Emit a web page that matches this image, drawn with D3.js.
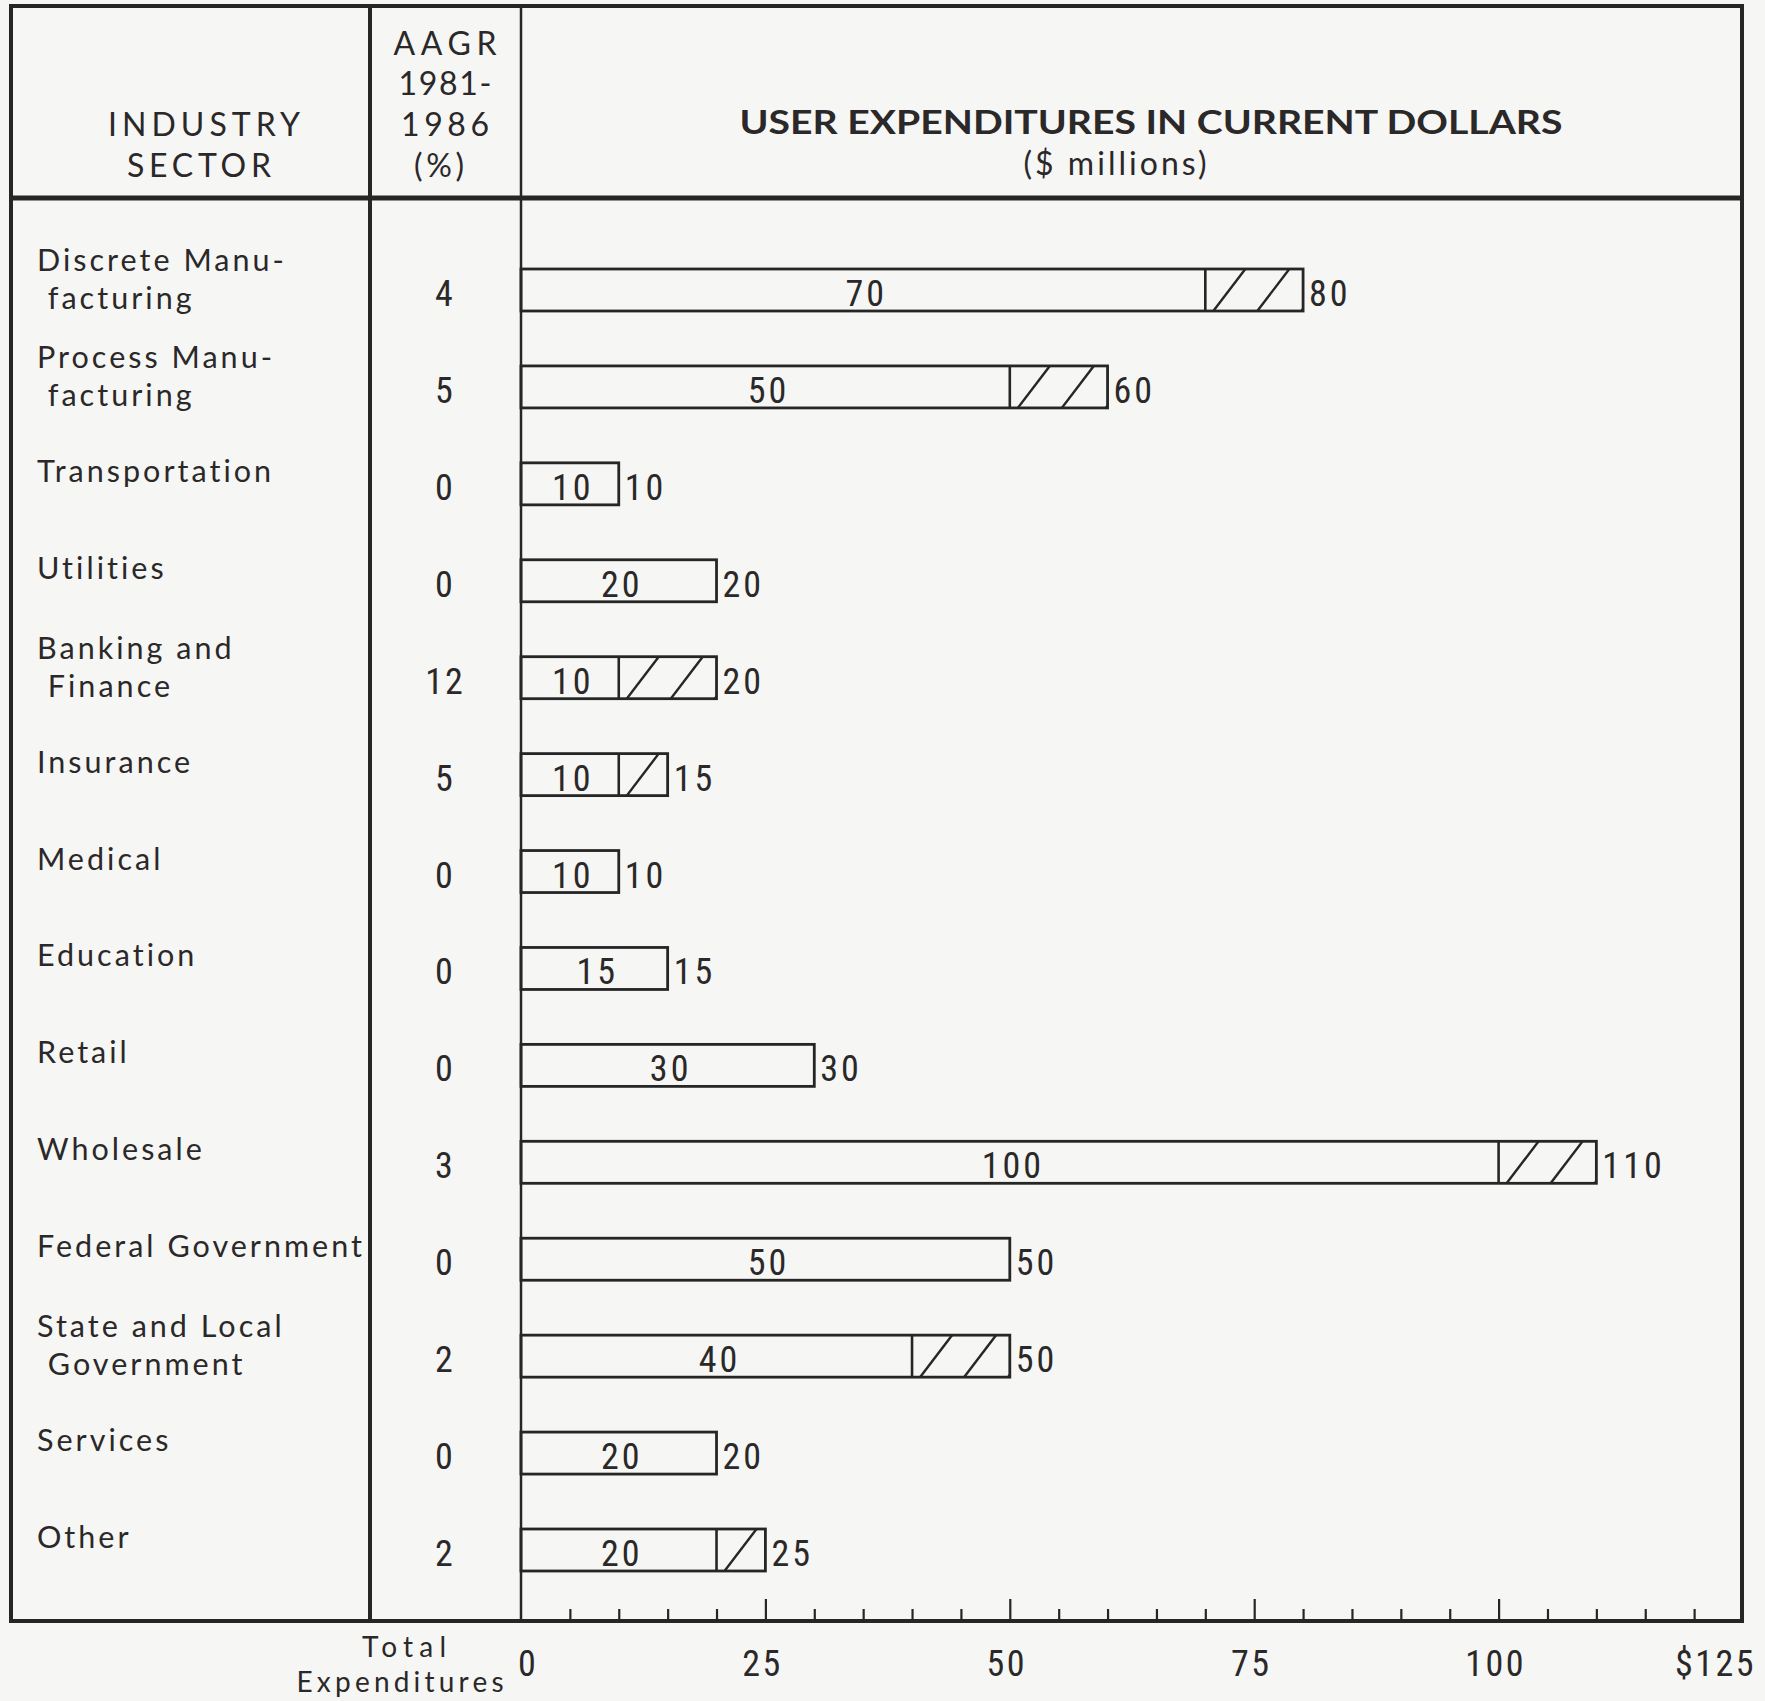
<!DOCTYPE html>
<html>
<head>
<meta charset="utf-8">
<script src="https://cdn.jsdelivr.net/npm/d3@7"></script>
<style>
  html, body { margin: 0; padding: 0; background: #f6f6f4; }
  svg { display: block; }
  text { fill: #2b2829; }
</style>
</head>
<body>
<svg id="chart" width="1765" height="1701"></svg>
<script>
// Industry sectors (each entry is one or two printed lines)
const sectors = [
  ["Discrete Manu-", " facturing"],
  ["Process Manu-", " facturing"],
  ["Transportation"],
  ["Utilities"],
  ["Banking and", " Finance"],
  ["Insurance"],
  ["Medical"],
  ["Education"],
  ["Retail"],
  ["Wholesale"],
  ["Federal Government"],
  ["State and Local", " Government"],
  ["Services"],
  ["Other"]
];
// Average annual growth rate 1981-1986 (%)
const aagr = [4, 5, 0, 0, 12, 5, 0, 0, 0, 3, 0, 2, 0, 2];
// User expenditures, $ millions: 1981 level and 1986 level
const spend1981 = [70, 50, 10, 20, 10, 10, 10, 15, 30, 100, 50, 40, 20, 20];
const spend1986 = [80, 60, 10, 20, 20, 15, 10, 15, 30, 110, 50, 50, 20, 25];
// Axis tick values and labels
const majorTicks = [0, 25, 50, 75, 100, 125];
const tickLabels = ["0", "25", "50", "75", "100", "$125"];
const minorTicks = [5, 10, 15, 20, 30, 35, 40, 45, 55, 60, 65, 70, 80, 85, 90, 95, 105, 110, 115, 120];

const ink = "#262626";
const svg = d3.select("#chart");

const frame = { left: 11, top: 6, right: 1742, bottom: 1621 };
const col1 = 370;
const headerBottom = 198;

const x = d3.scaleLinear().domain([0, 125]).range([521, 1743]);
const y = d3.scalePoint().domain(d3.range(sectors.length)).range([290, 1550]);
const barH = 42;

const sansFont = "Lato, 'Open Sans', 'DejaVu Sans', sans-serif";
const numFont = "'Liberation Sans Narrow', 'Roboto Condensed', 'DejaVu Sans Condensed', 'Open Sans', sans-serif";

// ---- table frame ----
const g = svg.append("g");
g.append("line").attr("x1", frame.left - 2).attr("x2", frame.right + 2)
  .attr("y1", frame.top).attr("y2", frame.top).attr("stroke", ink).attr("stroke-width", 4);
g.append("line").attr("x1", frame.left).attr("x2", frame.left)
  .attr("y1", frame.top).attr("y2", frame.bottom).attr("stroke", ink).attr("stroke-width", 4);
g.append("line").attr("x1", frame.right).attr("x2", frame.right)
  .attr("y1", frame.top).attr("y2", frame.bottom + 2).attr("stroke", ink).attr("stroke-width", 4);
g.append("line").attr("x1", col1).attr("x2", col1)
  .attr("y1", frame.top).attr("y2", frame.bottom).attr("stroke", ink).attr("stroke-width", 4);
g.append("line").attr("x1", x(0)).attr("x2", x(0))
  .attr("y1", frame.top).attr("y2", frame.bottom).attr("stroke", ink).attr("stroke-width", 2.5);
g.append("line").attr("x1", frame.left - 2).attr("x2", frame.right + 2)
  .attr("y1", headerBottom).attr("y2", headerBottom).attr("stroke", ink).attr("stroke-width", 5);
g.append("line").attr("x1", frame.left - 2).attr("x2", frame.right + 2)
  .attr("y1", frame.bottom).attr("y2", frame.bottom).attr("stroke", ink).attr("stroke-width", 4);

// ---- header text ----
const hdr = svg.append("g").attr("font-family", sansFont);
hdr.append("text").attr("x", 204).attr("y", 136).attr("text-anchor", "middle")
  .attr("font-size", 32).attr("textLength", 192).attr("lengthAdjust", "spacing").text("INDUSTRY");
hdr.append("text").attr("x", 199).attr("y", 177).attr("text-anchor", "middle")
  .attr("font-size", 32).attr("textLength", 144).attr("lengthAdjust", "spacing").text("SECTOR");
const aagrHead = ["AAGR", "1981-", "1986", "(%)"];
const aagrHeadY = [55, 95, 136, 177];
const aagrHeadW = [103, 93, 88, 50];
aagrHead.forEach((t, i) => {
  hdr.append("text").attr("x", 445 - (i === 3 ? 6 : 0)).attr("y", aagrHeadY[i]).attr("text-anchor", "middle")
    .attr("font-size", 32).attr("textLength", aagrHeadW[i]).attr("lengthAdjust", "spacing").text(t);
});
hdr.append("text").attr("x", 1151).attr("y", 134).attr("text-anchor", "middle")
  .attr("font-size", 33).attr("font-weight", 700)
  .attr("textLength", 823).attr("lengthAdjust", "spacingAndGlyphs")
  .text("USER EXPENDITURES IN CURRENT DOLLARS");
hdr.append("text").attr("x", 1115).attr("y", 175).attr("text-anchor", "middle")
  .attr("font-size", 32).attr("textLength", 183).attr("lengthAdjust", "spacing")
  .text("($ millions)");

// ---- sector labels ----
// letter spacing chosen so the longest label spans the first column
const labelSize = 30.5;
const probe = svg.append("text").attr("font-family", sansFont).attr("font-size", labelSize)
  .text("Federal Government");
const probeW = probe.node().getComputedTextLength();
probe.remove();
const labelSpacing = Math.max(0, (325 - probeW) / 17);

const rows = svg.append("g").selectAll("g.row").data(sectors).join("g").attr("class", "row");
rows.each(function (lines, i) {
  const c = y(i);
  const t = d3.select(this).append("text").attr("font-family", sansFont)
    .attr("font-size", labelSize).attr("letter-spacing", labelSpacing).attr("xml:space", "preserve");
  if (lines.length === 1) {
    t.append("tspan").attr("x", 37).attr("y", c - 2).text(lines[0]);
  } else {
    t.append("tspan").attr("x", 37).attr("y", c - 19).text(lines[0]);
    t.append("tspan").attr("x", 37).attr("y", c + 19).text(lines[1]);
  }
});

// ---- AAGR column ----
svg.append("g").selectAll("text").data(aagr).join("text")
  .attr("x", 445).attr("y", (d, i) => y(i) + 16)
  .attr("text-anchor", "middle").attr("font-family", numFont).attr("font-size", 36)
  .attr("letter-spacing", 2)
  .text(d => d);

// ---- bars ----
const bars = svg.append("g").selectAll("g.bar").data(spend1986).join("g").attr("class", "bar");

// clip regions for the hatched growth segments
const defs = svg.append("defs");
spend1986.forEach((v, i) => {
  defs.append("clipPath").attr("id", "clip" + i).append("rect")
    .attr("x", x(spend1981[i])).attr("y", y(i) - barH / 2)
    .attr("width", Math.max(0, x(v) - x(spend1981[i]))).attr("height", barH);
});

bars.each(function (v, i) {
  const b = d3.select(this);
  const top = y(i) - barH / 2;
  const base = spend1981[i];
  // hatch lines on the 1981-1986 growth
  if (v > base) {
    const hg = b.append("g").attr("clip-path", `url(#clip${i})`);
    const x0 = x(base), x1 = x(v);
    const step = 44, slant = 32, phase = 8;
    for (let bx = x0 + phase - step; bx < x1 + step; bx += step) {
      hg.append("line").attr("x1", bx).attr("y1", top + barH).attr("x2", bx + slant).attr("y2", top)
        .attr("stroke", ink).attr("stroke-width", 2.4);
    }
    b.append("line").attr("x1", x0).attr("x2", x0).attr("y1", top).attr("y2", top + barH)
      .attr("stroke", ink).attr("stroke-width", 2.6);
  }
  b.append("rect").attr("x", x(0)).attr("y", top).attr("width", x(v) - x(0)).attr("height", barH)
    .attr("fill", "none").attr("stroke", ink).attr("stroke-width", 2.8);
  // 1981 value inside the solid part
  b.append("text").attr("x", (x(0) + x(base)) / 2 + 3).attr("y", y(i) + 16)
    .attr("text-anchor", "middle").attr("font-family", numFont).attr("font-size", 36)
    .attr("letter-spacing", 3).text(base);
  // 1986 total past the bar end
  b.append("text").attr("x", x(v) + 6).attr("y", y(i) + 16)
    .attr("font-family", numFont).attr("font-size", 36)
    .attr("letter-spacing", 3).text(v);
});

// ---- bottom scale ----
const axisG = svg.append("g").attr("transform", `translate(0,${frame.bottom})`);
const major = axisG.append("g").call(
  d3.axisBottom(x).tickValues(majorTicks.slice(1, -1)).tickSizeInner(-22).tickSizeOuter(0).tickFormat("")
);
const minor = axisG.append("g").call(
  d3.axisBottom(x).tickValues(minorTicks).tickSizeInner(-12).tickSizeOuter(0).tickFormat("")
);
[major, minor].forEach(a => {
  a.select(".domain").remove();
  a.selectAll(".tick line").attr("stroke", ink).attr("stroke-width", 2.2);
});
axisG.append("g").selectAll("text").data(majorTicks).join("text")
  .attr("x", (d, i) => i === 0 ? x(d) - 3 : (i === majorTicks.length - 1 ? frame.right + 14 : x(d) - 3))
  .attr("y", 55)
  .attr("text-anchor", (d, i) => i === 0 ? "start" : (i === majorTicks.length - 1 ? "end" : "middle"))
  .attr("font-family", numFont).attr("font-size", 36).attr("letter-spacing", 2.5)
  .text((d, i) => tickLabels[i]);

axisG.append("text").attr("x", 404).attr("y", 36).attr("text-anchor", "middle")
  .attr("font-family", sansFont).attr("font-size", 28).attr("textLength", 84)
  .attr("lengthAdjust", "spacing").text("Total");
axisG.append("text").attr("x", 400).attr("y", 71).attr("text-anchor", "middle")
  .attr("font-family", sansFont).attr("font-size", 28).attr("textLength", 207)
  .attr("lengthAdjust", "spacing").text("Expenditures");
</script>
</body>
</html>
